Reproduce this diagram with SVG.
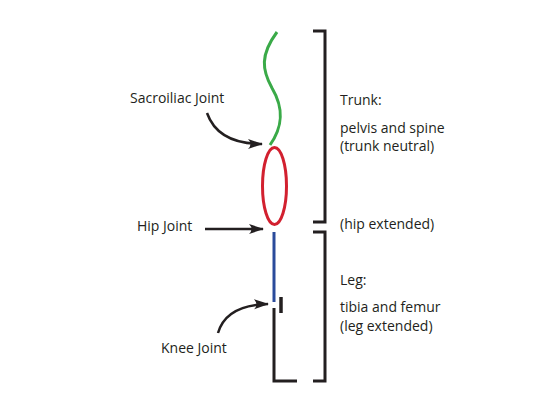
<svg xmlns="http://www.w3.org/2000/svg" width="559" height="420" viewBox="0 0 559 420">
<style>
text{font-family:"Open Sans","Liberation Sans",sans-serif;font-size:14px;fill:#231f20}
.br{fill:none;stroke:#231f20;stroke-width:3}
.ar{fill:none;stroke:#231f20;stroke-width:2.5}
</style>
<defs>
<marker id="ah" markerWidth="16" markerHeight="12" refX="14" refY="6" orient="auto" markerUnits="userSpaceOnUse">
<path d="M0,1 L15,6 L0,11 Q5,6 0,1 Z" fill="#231f20"/>
</marker>
</defs>
<rect width="559" height="420" fill="#fff"/>
<g id="trunk">
<path d="M277,32 C260,55 262,70 272,88 C285,110 282,128 270,145" fill="none" stroke="#3aaa48" stroke-width="3"/>
<ellipse cx="274.5" cy="186" rx="12" ry="38.5" fill="none" stroke="#d2202f" stroke-width="3"/>
</g>
<g id="leg">
<line x1="274" y1="232" x2="274" y2="302" stroke="#2a4b9b" stroke-width="3"/>
<line x1="281" y1="297" x2="281" y2="313" stroke="#231f20" stroke-width="3.5"/>
<polyline points="274,308 274,381 297,381" fill="none" stroke="#231f20" stroke-width="3"/>
</g>
<g id="trunk-bracket">
<polyline class="br" points="313,31 325,31 325,222 313,222"/>
</g>
<g id="leg-bracket">
<polyline class="br" points="313,232 325,232 325,381 313,381"/>
</g>
<g id="labels-right">
<text x="340" y="105">Trunk:</text>
<text x="340" y="133">pelvis and spine</text>
<text x="340" y="151">(trunk neutral)</text>
<text x="340" y="229">(hip extended)</text>
<text x="340" y="285">Leg:</text>
<text x="340" y="312">tibia and femur</text>
<text x="340" y="331">(leg extended)</text>
</g>
<g id="sacroiliac">
<text x="130" y="103">Sacroiliac Joint</text>
</g>
<g id="hip">
<text x="137" y="231">Hip Joint</text>
</g>
<g id="knee">
<text x="161" y="353">Knee Joint</text>
</g>
<g id="connectors">
<path class="ar" d="M207,113 Q218,144 262,144" marker-end="url(#ah)"/>
<line class="ar" x1="205" y1="229" x2="263" y2="229" marker-end="url(#ah)"/>
<path class="ar" d="M218,333 Q226,305 268,304" marker-end="url(#ah)"/>
</g>
</svg>
